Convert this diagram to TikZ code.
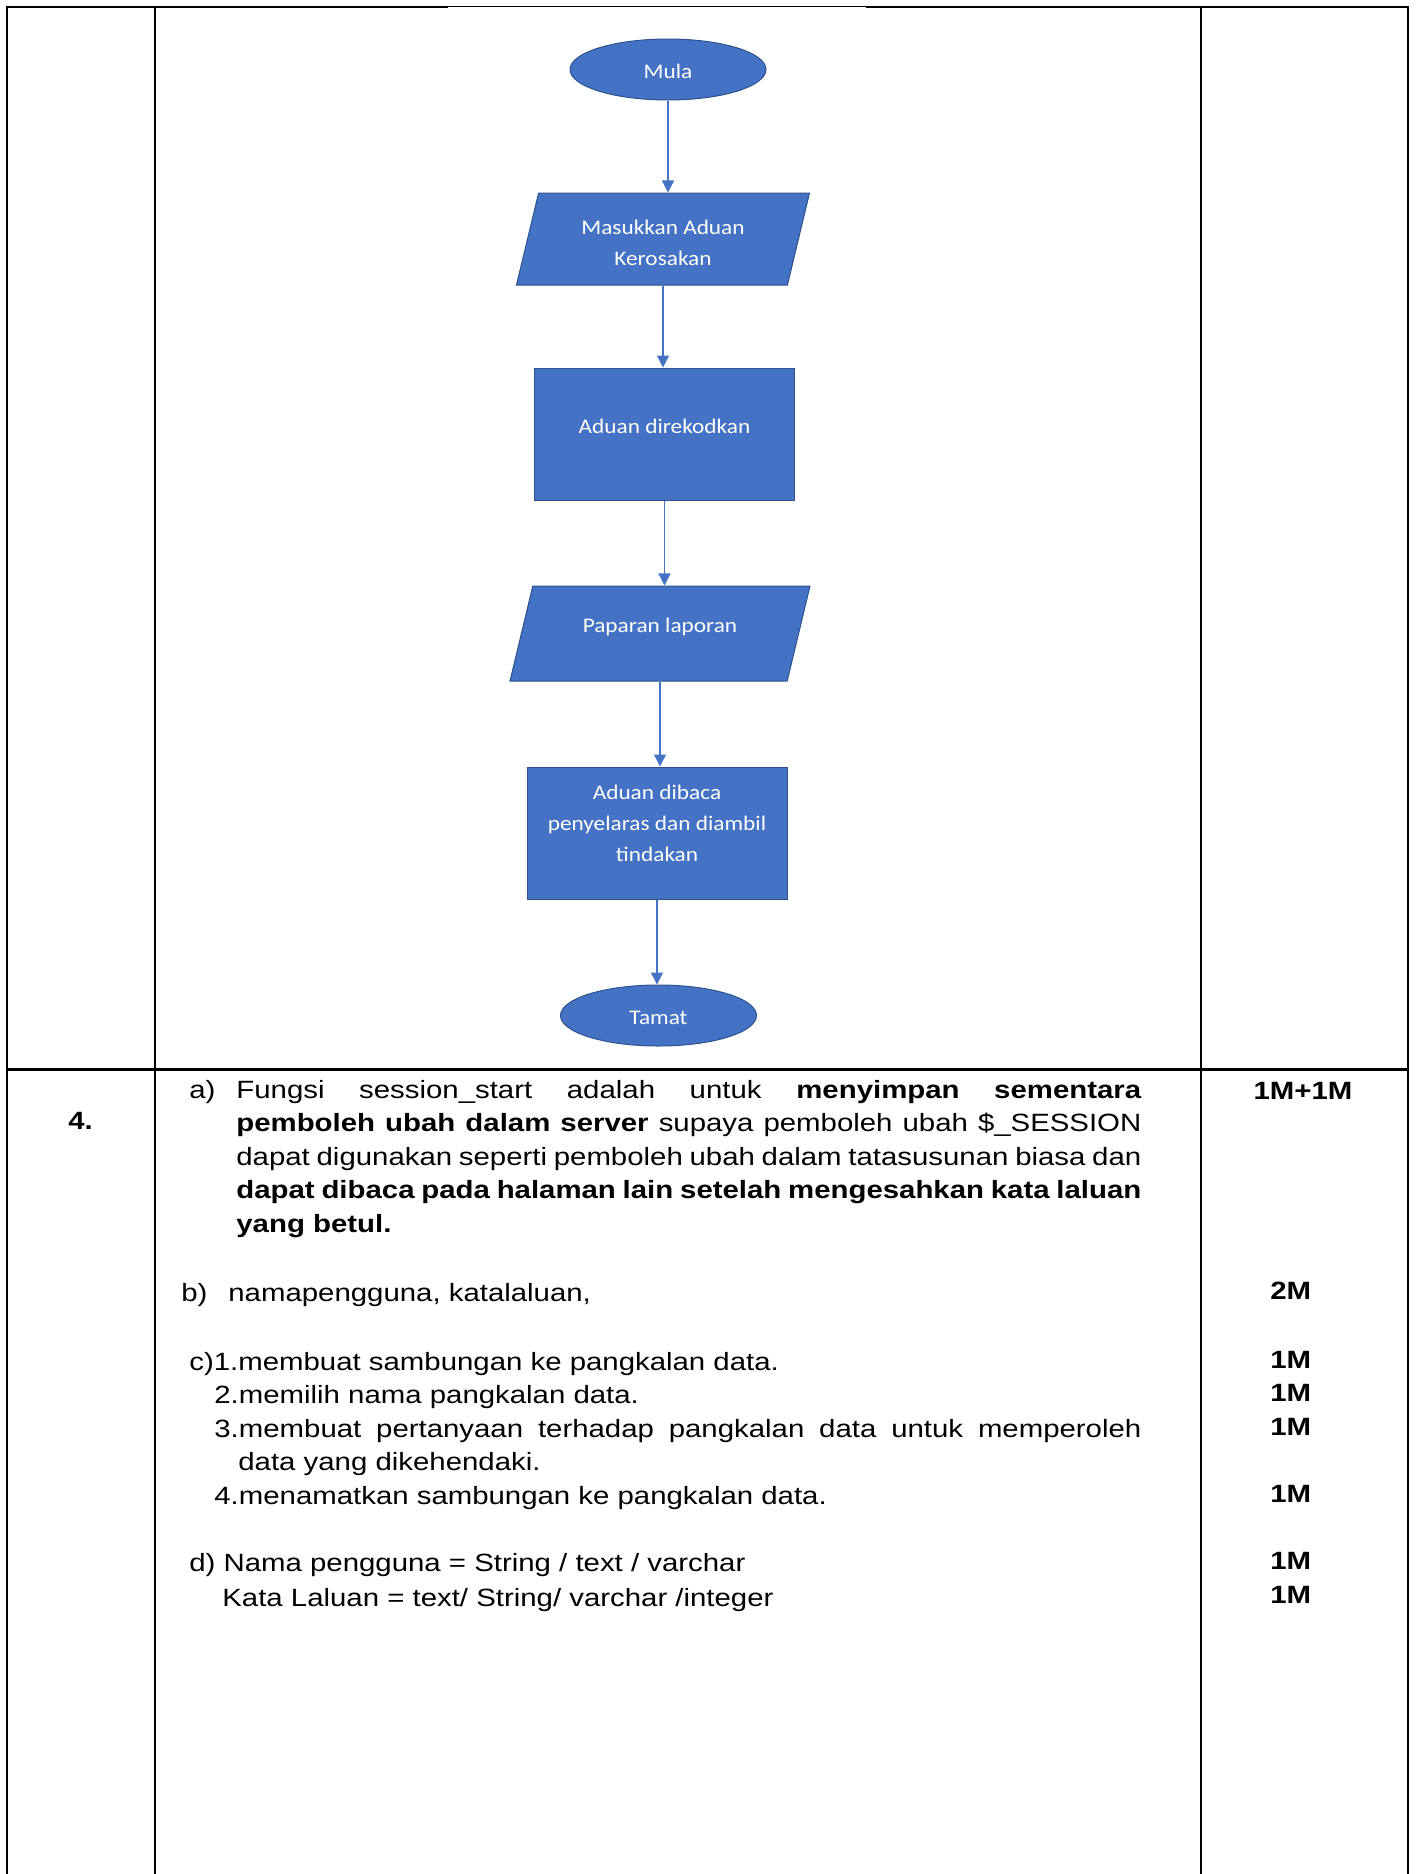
\documentclass[tikz,border=0pt]{standalone}
\usepackage{fontspec}
\setmainfont{Liberation Sans}[FakeStretch=1.175]
\newfontfamily\flowfont{Carlito}[FakeStretch=1.12]
\usetikzlibrary{shapes.geometric,arrows.meta}
\definecolor{flowblue}{HTML}{4472C4}
\definecolor{flowedge}{HTML}{2F528F}
\newcommand{\liftup}[2]{\raisebox{#1}[\height][\depth]{#2}}

\begin{document}
\begin{tikzpicture}[
    x=0.5pt, y=-0.5pt,
    terminal/.style={ellipse, draw=flowedge, line width=0.5pt, fill=flowblue, text=white, font=\flowfont\fontsize{10.4}{15.5}\selectfont, minimum width=98pt, minimum height=30.5pt, inner sep=0pt},
    io/.style={trapezium, trapezium left angle=76.5, trapezium right angle=103.5, trapezium stretches body, draw=flowedge, line width=0.5pt, fill=flowblue, text=white, font=\flowfont\fontsize{10.4}{15.5}\selectfont, minimum width=146.5pt, inner sep=0pt},
    process/.style={rectangle, draw=flowedge, line width=0.5pt, fill=flowblue, text=white, align=center, font=\flowfont\fontsize{10.4}{15.5}\selectfont, minimum width=130pt, minimum height=66pt, inner sep=0pt},
    arrow/.style={-{Triangle[width=6pt,length=6pt]}, draw=flowblue, line width=0.65pt},
    answer/.style={anchor=base west, inner sep=0pt, font=\fontsize{12.5}{16.75}\selectfont},
    para/.style={answer, align=justify, execute at begin node={\tolerance=9999\hyphenpenalty=10000}},
    score/.style={anchor=base west, inner sep=0pt, font=\bfseries\fontsize{12.5}{16.75}\selectfont},
    tableline/.style={line width=0.75pt}
]
    \useasboundingbox (0,0) rectangle (1415,1874);

    % table frame
    \draw[line width=1.25pt] (6,7) -- (448,7);
    \draw[line width=0.5pt] (448,6.5) -- (866,6.5);
    \draw[line width=1.25pt] (866,7) -- (1409,7);
    \draw[line width=1.5pt] (6,1069) -- (1409,1069);
    \foreach \x in {7,155,1201,1408}
        \draw[tableline] (\x,6) -- (\x,1874);

    % flowchart
    \node[terminal] (mula) at (668,69.5) {\liftup{-1pt}{Mula}};
    \node[io, text height=23pt, text depth=23pt] (masuk) at (663,239) {\liftup{-5pt}{\begin{tabular}{@{}c@{}}Masukkan Aduan\\Kerosakan\end{tabular}}};
    \node[process, text depth=8pt] (rekod) at (664.5,434) {Aduan direkodkan};
    \node[io, minimum width=150pt, text height=23.75pt, text depth=23.75pt] (papar) at (660,633.5) {\liftup{0.5pt}{Paparan laporan}};
    \node[process] (baca) at (657,833) {\liftup{4.5pt}{\begin{tabular}{@{}c@{}}Aduan dibaca\\penyelaras dan diambil\\tindakan\end{tabular}}};
    \node[terminal] (tamat) at (658.5,1015.5) {\liftup{-1pt}{Tamat}};

    \draw[arrow] (mula.south) -- (mula.south |- masuk.north);
    \draw[arrow] (masuk.south) -- (masuk.south |- rekod.north);
    \draw[arrow] (rekod.south) -- (rekod.south |- papar.north);
    \draw[arrow] (papar.south) -- (papar.south |- baca.north);
    \draw[arrow] (baca.south) -- (baca.south |- tamat.north);

    % answers
    \node[score] (qnum) at (68,1129) {4.};

    \node[answer] (qa) at (189,1098) {a)};
    \node[para, text width=452.5pt] (ansa) at (236,1098) {Fungsi session\_start adalah untuk \textbf{menyimpan sementara}\linebreak
        \textbf{pemboleh ubah dalam server} supaya pemboleh ubah \$\_SESSION\linebreak
        dapat digunakan seperti pemboleh ubah dalam tatasusunan biasa dan\linebreak
        \textbf{dapat dibaca pada halaman lain setelah mengesahkan kata laluan}\linebreak
        \textbf{yang betul.}};

    \node[answer] (qb) at (181,1301) {b)};
    \node[answer] (ansb) at (228,1301) {namapengguna, katalaluan,};

    \node[answer] (ansc1) at (189,1370) {c)1.membuat sambungan ke pangkalan data.};
    \node[answer] (ansc2) at (214,1403.5) {2.memilih nama pangkalan data.};
    \node[para, text width=463.5pt] (ansc3) at (214,1437) {\hangindent=12pt\hangafter=1
        3.membuat pertanyaan terhadap pangkalan data untuk memperoleh\linebreak
        data yang dikehendaki.\par};
    \node[answer] (ansc4) at (214,1504) {4.menamatkan sambungan ke pangkalan data.};

    \node[answer] (ansd1) at (189,1571) {d) Nama pengguna = String / text / varchar};
    \node[answer] (ansd2) at (222,1606) {Kata Laluan = text/ String/ varchar /integer};

    % marks
    \node[score, anchor=base] (ma) at (1303,1099) {1M+1M};
    \node[score] (mb) at (1270,1299) {2M};
    \node[score] (mc1) at (1270,1368) {1M};
    \node[score] (mc2) at (1270,1401.5) {1M};
    \node[score] (mc3) at (1270,1435) {1M};
    \node[score] (mc4) at (1270,1502) {1M};
    \node[score] (md1) at (1270,1569) {1M};
    \node[score] (md2) at (1270,1603) {1M};
\end{tikzpicture}
\end{document}
